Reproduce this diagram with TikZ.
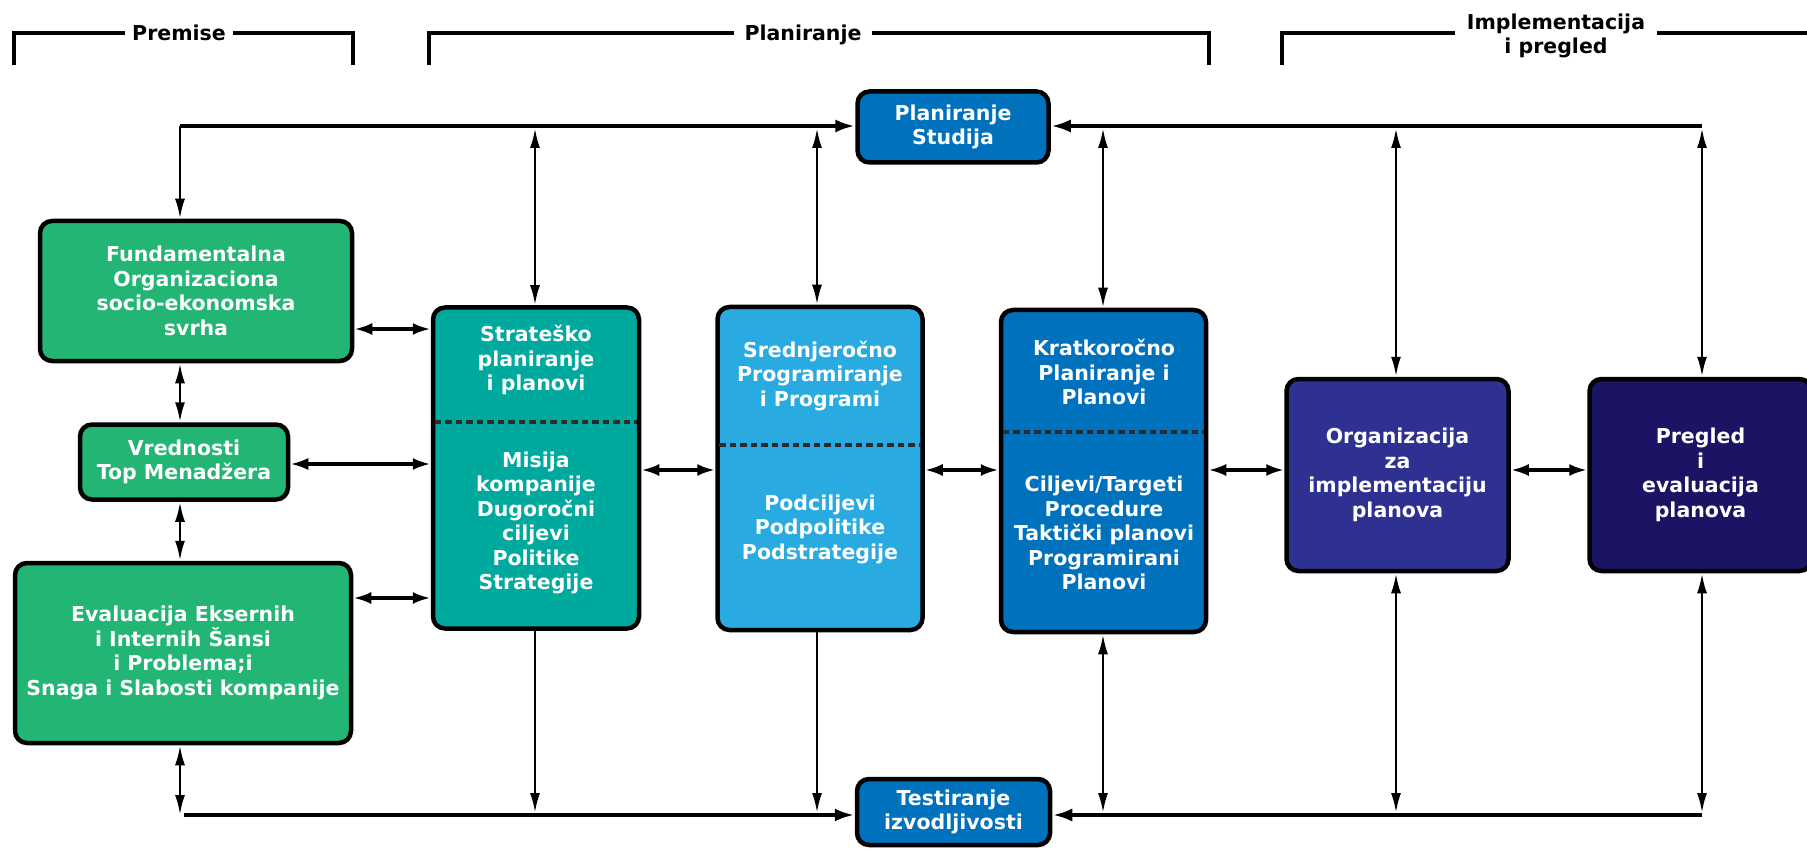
\documentclass[tikz,border=0pt]{standalone}
\usepackage{fontspec}
\setmainfont{DejaVu Sans}
\usetikzlibrary{arrows.meta}

\definecolor{cGreen}{HTML}{22B573}
\definecolor{cTeal}{HTML}{00A99D}
\definecolor{cSky}{HTML}{29ABE2}
\definecolor{cBlue}{HTML}{0071BC}
\definecolor{cIndigo}{HTML}{2E3192}
\definecolor{cNavy}{HTML}{1B1464}
\definecolor{cDash}{HTML}{2B2B2B}

\tikzset{
  VA/.tip={Latex[length=20pt,width=10pt]},
  HA/.tip={Latex[length=18pt,width=12pt]},
  BA/.tip={Latex[length=20pt,width=13pt]},
  box/.style={draw=black, line width=4.5pt, rounded corners=12pt, inner sep=0pt,
              text=white, align=center, font=\bfseries\fontsize{20.5}{24.5}\selectfont},
  txt/.style={text=white, align=center, inner sep=0pt,
              font=\bfseries\fontsize{20.5}{24.5}\selectfont},
  hdr/.style={align=center, inner ysep=0pt, font=\bfseries\fontsize{20.5}{24.5}\selectfont},
  brk/.style={line width=3.5pt},
  bus/.style={line width=4pt},
  vconn/.style={line width=2.6pt},
  hconn/.style={line width=3.4pt},
  sep/.style={draw=cDash, line width=3.5pt, dash pattern=on 6.5pt off 4pt,
              shorten <=4pt, shorten >=4pt},
}

\begin{document}
\begin{tikzpicture}[x=1pt, y=-1pt]
  \fill[white] (0,0) rectangle (1807,850);
  \useasboundingbox (0,0) rectangle (1807,850);
  \clip (0,0) rectangle (1807,850);

  % lanes shared by the connectors
  \coordinate (yTop) at (0,126);
  \coordinate (yBot) at (0,815);
  \coordinate (xL) at (180,0);
  \coordinate (xS) at (535,0);
  \coordinate (xM) at (817,0);
  \coordinate (xK) at (1103,0);
  \coordinate (xO) at (1396,0);
  \coordinate (xP) at (1702,0);
  \coordinate (yA) at (0,329);
  \coordinate (yB) at (0,464);
  \coordinate (yC) at (0,598);
  \coordinate (yM) at (0,470);
  \coordinate (busL) at (184,815);
  \coordinate (busR) at (1702,815);

  % section headers
  \node[hdr, text height=15pt, text depth=0pt, inner xsep=7pt] (hPrem) at (179,33) {Premise};
  \coordinate (pL) at (14,65);
  \coordinate (pR) at (353,65);
  \draw[brk] (hPrem.west) -| (pL);
  \draw[brk] (hPrem.east) -| (pR);

  \node[hdr, text height=15pt, text depth=0pt, inner xsep=10pt] (hPlan) at (803,33) {Planiranje};
  \coordinate (plL) at (429,65);
  \coordinate (plR) at (1209,65);
  \draw[brk] (hPlan.west) -| (plL);
  \draw[brk] (hPlan.east) -| (plR);

  \node[hdr, inner xsep=12pt] (hImpl) at (1556,36) {Implementacija\\i pregled};
  \coordinate (iL) at (1282,65);
  \coordinate (iR) at (1807,33);
  \draw[brk] (iL) |- (hImpl.west |- iR);
  \draw[brk] (hImpl.east |- iR) -- (iR);

  % boxes
  \node[box, fill=cBlue, minimum width=191pt, minimum height=71pt] (ps) at (953,127) {Planiranje\\Studija};
  \node[box, fill=cBlue, minimum width=193pt, minimum height=66pt] (ti) at (953.5,812) {Testiranje\\izvodljivosti};

  \node[box, fill=cGreen, minimum width=312pt, minimum height=140pt] (fund) at (196,291)
    {Fundamentalna\\Organizaciona\\socio-ekonomska\\svrha};
  \node[box, fill=cGreen, minimum width=208pt, minimum height=75pt] (vred) at (184,462)
    {Vrednosti\\Top Menadžera};
  \node[box, fill=cGreen, minimum width=336pt, minimum height=180pt] (eval) at (183,653)
    {Evaluacija Eksernih\\i Internih Šansi\\i Problema;i\\Snaga i Slabosti kompanije};

  \node[box, fill=cTeal, minimum width=206pt, minimum height=321pt] (strat) at (536,468) {};
  \node[box, fill=cSky, minimum width=205pt, minimum height=323pt] (sred) at (820,468.5) {};
  \node[box, fill=cBlue, minimum width=205pt, minimum height=322pt] (krat) at (1103.5,471) {};

  \node[box, fill=cIndigo, minimum width=222pt, minimum height=192pt] (org) at (1397.5,475)
    {Organizacija\\za\\implementaciju\\planova};
  \node[box, fill=cNavy, minimum width=222pt, minimum height=192pt] (preg) at (1700.5,475)
    {Pregled\\i\\evaluacija\\planova};

  % dashed separators inside the tall boxes
  \coordinate (dS) at (0,422);
  \coordinate (dM) at (0,445);
  \coordinate (dK) at (0,432);
  \draw[sep] (strat.west |- dS) -- (strat.east |- dS);
  \draw[sep] (sred.west |- dM) -- (sred.east |- dM);
  \draw[sep] (krat.west |- dK) -- (krat.east |- dK);

  % texts of the tall boxes
  \node[txt] (stratT) at (536,360) {Strateško\\planiranje\\i planovi};
  \node[txt] (stratB) at (536,523) {Misija\\kompanije\\Dugoročni\\ciljevi\\Politike\\Strategije};
  \node[txt] (sredT) at (820,376) {Srednjeročno\\Programiranje\\i Programi};
  \node[txt] (sredB) at (820,529) {Podciljevi\\Podpolitike\\Podstrategije};
  \node[txt] (kratT) at (1104,372) {Kratkoročno\\Planiranje i\\Planovi};
  \node[txt] (kratB) at (1104,533) {Ciljevi/Targeti\\Procedure\\Taktički planovi\\Programirani\\Planovi};

  % top bus into Planiranje Studija
  \draw[bus, -BA] (xL |- yTop) -- (ps.west |- yTop);
  \draw[bus, -BA] (xP |- yTop) -- (ps.east |- yTop);
  \draw[vconn, -VA] (xL |- yTop) -- (xL |- fund.north);
  \draw[vconn, VA-VA, shorten <=2pt] (xS |- yTop) -- (xS |- strat.north);
  \draw[vconn, VA-VA, shorten <=2pt] (xM |- yTop) -- (xM |- sred.north);
  \draw[vconn, VA-VA, shorten <=2pt] (xK |- yTop) -- (xK |- krat.north);
  \draw[vconn, VA-VA, shorten <=2pt] (xO |- yTop) -- (xO |- org.north);
  \draw[vconn, VA-VA, shorten <=2pt] (xP |- yTop) -- (xP |- preg.north);

  % bottom bus into Testiranje izvodljivosti
  \draw[bus, -BA] (busL) -- (ti.west |- yBot);
  \draw[bus, -BA] (busR) -- (ti.east |- yBot);
  \draw[vconn, VA-VA] (xL |- eval.south) -- (xL |- yBot);
  \draw[vconn, -VA, shorten >=2pt] (xS |- strat.south) -- (xS |- yBot);
  \draw[vconn, -VA, shorten >=2pt] (xM |- sred.south) -- (xM |- yBot);
  \draw[vconn, VA-VA, shorten >=2pt] (xK |- krat.south) -- (xK |- yBot);
  \draw[vconn, VA-VA, shorten >=2pt] (xO |- org.south) -- (xO |- yBot);
  \draw[vconn, VA-VA, shorten >=2pt] (xP |- preg.south) -- (xP |- yBot);

  % premise column
  \draw[vconn, VA-VA] (xL |- fund.south) -- (xL |- vred.north);
  \draw[vconn, VA-VA] (xL |- vred.south) -- (xL |- eval.north);
  \draw[hconn, HA-HA] (fund.east |- yA) -- (strat.west |- yA);
  \draw[hconn, HA-HA] (vred.east |- yB) -- (strat.west |- yB);
  \draw[hconn, HA-HA] (eval.east |- yC) -- (strat.west |- yC);

  % chain of planning stages
  \draw[hconn, HA-HA] (strat.east |- yM) -- (sred.west |- yM);
  \draw[hconn, HA-HA] (sred.east |- yM) -- (krat.west |- yM);
  \draw[hconn, HA-HA] (krat.east |- yM) -- (org.west |- yM);
  \draw[hconn, HA-HA] (org.east |- yM) -- (preg.west |- yM);
\end{tikzpicture}
\end{document}
